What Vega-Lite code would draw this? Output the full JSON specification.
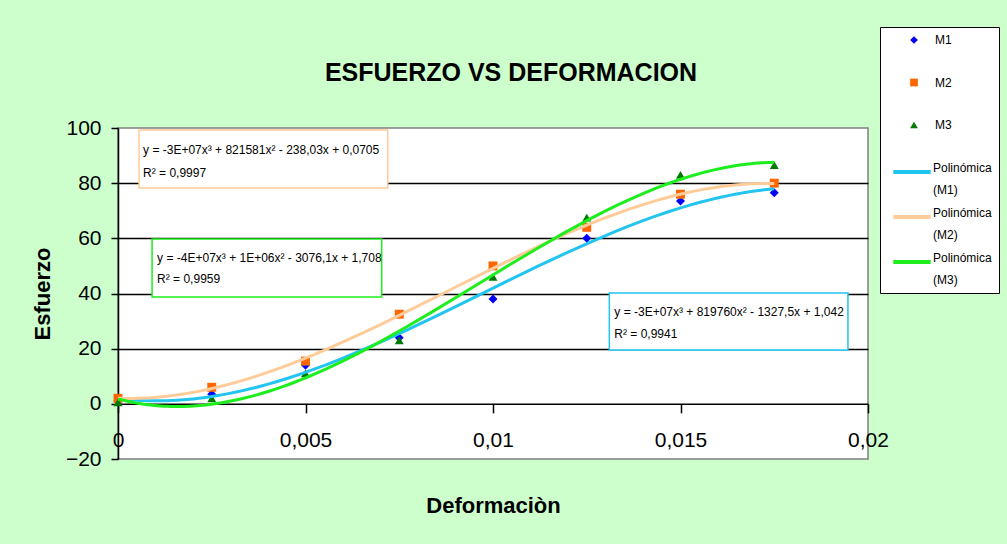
{
  "$schema": "https://vega.github.io/schema/vega-lite/v6.json",
  "width": 750,
  "height": 331,
  "autosize": {"type": "none"},
  "padding": {"left": 118, "top": 128, "right": 139, "bottom": 85},
  "background": "#CCFFCC",
  "config": {
    "font": "Liberation Sans",
    "view": {"fill": "white", "stroke": "#808080", "strokeWidth": 1.5},
    "style": {"guide-label": {"lineHeight": 21.5}}
  },
  "title": {
    "text": "ESFUERZO VS DEFORMACION",
    "fontSize": 25,
    "font": "Liberation Sans",
    "fontWeight": "bold",
    "color": "black",
    "anchor": "middle",
    "frame": "group",
    "dx": 18,
    "offset": 0,
    "dy": 79,
    "baseline": "alphabetic"
  },
  "resolve": {
    "scale": {"color": "independent", "shape": "independent"},
    "legend": {"color": "independent", "shape": "independent"}
  },
  "datasets": {
    "medidas": [
      {"x": 0, "y": 1, "serie": "M1", "tendencia": "Polinómica (M1)"},
      {"x": 0.0025, "y": 3.5, "serie": "M1", "tendencia": "Polinómica (M1)"},
      {"x": 0.005, "y": 14, "serie": "M1", "tendencia": "Polinómica (M1)"},
      {"x": 0.0075, "y": 24, "serie": "M1", "tendencia": "Polinómica (M1)"},
      {"x": 0.01, "y": 38, "serie": "M1", "tendencia": "Polinómica (M1)"},
      {"x": 0.0125, "y": 60, "serie": "M1", "tendencia": "Polinómica (M1)"},
      {"x": 0.015, "y": 73.5, "serie": "M1", "tendencia": "Polinómica (M1)"},
      {"x": 0.0175, "y": 76.5, "serie": "M1", "tendencia": "Polinómica (M1)"},
      {"x": 0, "y": 2, "serie": "M2", "tendencia": "Polinómica (M2)"},
      {"x": 0.0025, "y": 6, "serie": "M2", "tendencia": "Polinómica (M2)"},
      {"x": 0.005, "y": 15.5, "serie": "M2", "tendencia": "Polinómica (M2)"},
      {"x": 0.0075, "y": 32.5, "serie": "M2", "tendencia": "Polinómica (M2)"},
      {"x": 0.01, "y": 50, "serie": "M2", "tendencia": "Polinómica (M2)"},
      {"x": 0.0125, "y": 64, "serie": "M2", "tendencia": "Polinómica (M2)"},
      {"x": 0.015, "y": 76, "serie": "M2", "tendencia": "Polinómica (M2)"},
      {"x": 0.0175, "y": 80, "serie": "M2", "tendencia": "Polinómica (M2)"},
      {"x": 0, "y": 0.5, "serie": "M3", "tendencia": "Polinómica (M3)"},
      {"x": 0.0025, "y": 2, "serie": "M3", "tendencia": "Polinómica (M3)"},
      {"x": 0.005, "y": 11, "serie": "M3", "tendencia": "Polinómica (M3)"},
      {"x": 0.0075, "y": 23, "serie": "M3", "tendencia": "Polinómica (M3)"},
      {"x": 0.01, "y": 46, "serie": "M3", "tendencia": "Polinómica (M3)"},
      {"x": 0.0125, "y": 67.5, "serie": "M3", "tendencia": "Polinómica (M3)"},
      {"x": 0.015, "y": 83, "serie": "M3", "tendencia": "Polinómica (M3)"},
      {"x": 0.0175, "y": 86.5, "serie": "M3", "tendencia": "Polinómica (M3)"}
    ],
    "cajas": [
      {"x0": 0.000561, "x1": 0.007193, "y0": 99.27, "y1": 78.24, "tendencia": "Polinómica (M2)"},
      {"x0": 0.000909, "x1": 0.007032, "y0": 59.75, "y1": 38.72, "tendencia": "Polinómica (M3)"},
      {"x0": 0.013102, "x1": 0.019465, "y0": 40.17, "y1": 19.5, "tendencia": "Polinómica (M1)"}
    ],
    "textos": [
      {"x": 0.000668, "y": 90.56, "texto": "y = -3E+07x³ + 821581x² - 238,03x + 0,0705"},
      {"x": 0.000668, "y": 82.22, "texto": "R² = 0,9997"},
      {"x": 0.001043, "y": 51.41, "texto": "y = -4E+07x³ + 1E+06x² - 3076,1x + 1,708"},
      {"x": 0.001043, "y": 43.8, "texto": "R² = 0,9959"},
      {"x": 0.013235, "y": 31.83, "texto": "y = -3E+07x³ + 819760x² - 1327,5x + 1,042"},
      {"x": 0.013235, "y": 23.86, "texto": "R² = 0,9941"}
    ]
  },
  "layer": [
    {
      "data": {"name": "medidas"},
      "mark": {"type": "point", "filled": true, "size": 80, "opacity": 1},
      "encoding": {
        "x": {
          "field": "x",
          "type": "quantitative",
          "scale": {"domain": [0, 0.02], "nice": false, "zero": false},
          "axis": {
            "orient": "bottom",
            "offset": -55.17,
            "title": "Deformaciòn",
            "titleFontSize": 22,
            "titleFontWeight": "bold",
            "titleColor": "black",
            "titleX": 375,
            "titleY": 109,
            "titleBaseline": "alphabetic",
            "titleAlign": "center",
            "labelFontSize": 21,
            "labelColor": "black",
            "labelPadding": 17,
            "tickSize": 9,
            "tickColor": "black",
            "tickWidth": 1.5,
            "domainColor": "black",
            "domainWidth": 1.5,
            "grid": false,
            "values": [0, 0.005, 0.01, 0.015, 0.02],
            "labelExpr": "replace(format(datum.value, '~g'), '.', ',')",
            "labelFlush": false,
            "labelOverlap": false
          }
        },
        "y": {
          "field": "y",
          "type": "quantitative",
          "scale": {"domain": [-20, 100], "nice": false},
          "axis": {
            "title": "Esfuerzo",
            "titleFontSize": 22,
            "titleFontWeight": "bold",
            "titleColor": "black",
            "titleX": -76,
            "titleY": 165.5,
            "titleAngle": -90,
            "titleAlign": "center",
            "titleBaseline": "middle",
            "values": [-20, 0, 20, 40, 60, 80, 100],
            "labelFontSize": 21,
            "labelColor": "black",
            "labelPadding": 10,
            "tickSize": 7,
            "tickColor": "black",
            "tickWidth": 1.5,
            "domainColor": "black",
            "domainWidth": 1.5,
            "grid": true,
            "gridColor": {"condition": {"test": "datum.value == 100 || datum.value == -20 || datum.value == 0", "value": "transparent"}, "value": "black"},
            "gridWidth": 1.5
          }
        },
        "color": {
          "field": "serie",
          "type": "nominal",
          "scale": {"domain": ["M1", "M2", "M3"], "range": ["#0000FF", "#FF6600", "#007A00"]},
          "legend": {
            "title": null,
            "orient": "none",
            "direction": "vertical",
            "columns": 1,
            "zindex": 2,
            "legendX": 762,
            "legendY": -101,
            "padding": 7,
            "fillColor": "transparent",
            "strokeColor": "transparent",
            "labelFontSize": 12,
            "labelColor": "black",
            "labelOffset": 15,
            "symbolOffset": 21,
            "symbolSize": 60,
            "rowPadding": 30.5
          }
        },
        "shape": {
          "field": "serie",
          "type": "nominal",
          "scale": {"domain": ["M1", "M2", "M3"], "range": ["diamond", "square", "triangle-up"]},
          "legend": {
            "title": null,
            "orient": "none",
            "direction": "vertical",
            "columns": 1,
            "zindex": 2,
            "legendX": 762,
            "legendY": -101,
            "padding": 7,
            "fillColor": "transparent",
            "strokeColor": "transparent",
            "labelFontSize": 12,
            "labelColor": "black",
            "labelOffset": 15,
            "symbolOffset": 21,
            "symbolSize": 60,
            "rowPadding": 30.5
          }
        }
      }
    },
    {
      "data": {"name": "medidas"},
      "transform": [
        {"regression": "y", "on": "x", "groupby": ["tendencia"], "method": "poly", "order": 3, "extent": [0, 0.0175]}
      ],
      "mark": {"type": "line", "strokeWidth": 3},
      "encoding": {
        "x": {"field": "x", "type": "quantitative"},
        "y": {"field": "y", "type": "quantitative"},
        "color": {
          "field": "tendencia",
          "type": "nominal",
          "scale": {"domain": ["Polinómica (M1)", "Polinómica (M2)", "Polinómica (M3)"], "range": ["#22C4F0", "#FFCC99", "#1EEE1E"]},
          "legend": {
            "title": [" ", " ", " ", " ", " "],
            "titleFontSize": 12,
            "titleLineHeight": 22,
            "titlePadding": 17,
            "titleBaseline": "top",
            "orient": "none",
            "direction": "vertical",
            "columns": 1,
            "zindex": 0,
            "legendX": 762,
            "legendY": -101,
            "padding": 7,
            "fillColor": "white",
            "strokeColor": "black",
            "labelFontSize": 12,
            "labelColor": "black",
            "labelBaseline": "alphabetic",
            "labelOffset": 0,
            "symbolOffset": 4,
            "symbolType": "stroke",
            "symbolSize": 1400,
            "symbolStrokeWidth": 4,
            "rowPadding": 0,
            "labelLimit": 200,
            "labelExpr": "['Polinómica', replace(datum.label, 'Polinómica ', '')]"
          }
        }
      }
    },
    {
      "data": {"name": "cajas"},
      "mark": {"type": "rect", "fill": "white", "strokeWidth": 1.5},
      "encoding": {
        "x": {"field": "x0", "type": "quantitative"},
        "x2": {"field": "x1"},
        "y": {"field": "y0", "type": "quantitative"},
        "y2": {"field": "y1"},
        "stroke": {
          "field": "tendencia",
          "type": "nominal",
          "scale": {"domain": ["Polinómica (M1)", "Polinómica (M2)", "Polinómica (M3)"], "range": ["#22C4F0", "#FFCC99", "#1EEE1E"]},
          "legend": null
        }
      }
    },
    {
      "data": {"name": "textos"},
      "mark": {"type": "text", "align": "left", "baseline": "alphabetic", "fontSize": 12, "color": "black"},
      "encoding": {
        "x": {"field": "x", "type": "quantitative"},
        "y": {"field": "y", "type": "quantitative"},
        "text": {"field": "texto"}
      }
    }
  ]
}
